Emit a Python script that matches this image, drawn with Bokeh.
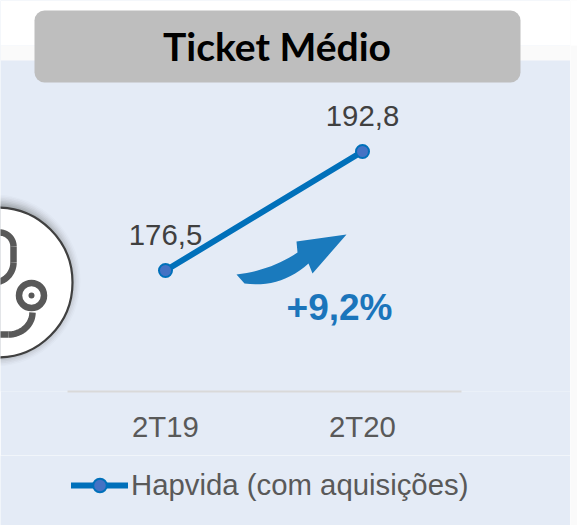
from bokeh.plotting import figure
from bokeh.embed import file_html
from bokeh.layouts import column, row
from bokeh.resources import INLINE
from bokeh.core.properties import value
from bokeh.models import (Range1d, LinearAxis, FixedTicker, BoxAnnotation, Legend, LegendItem,
                          ColumnDataSource)
import numpy as np

categories = ["2T19", "2T20"]
series_name = "Hapvida (com aquisições)"
ticket_medio = [176.5, 192.8]
variation_label = "+9,2%"
chart_title = "Ticket Médio"

PANEL = "#E4EBF6"
W, H, AXIS_Y, TOP_H, STRIP = 570, 525, 391, 455, 7
no_border = dict(min_border_left=0, min_border_right=0, min_border_top=0)

p = figure(width=W, height=TOP_H, frame_width=W, frame_height=AXIS_Y, output_backend="svg", toolbar_location=None,
           x_axis_location=None, y_axis_location=None,
           x_range=Range1d((0 - 165) / 197, (W - 165) / 197),
           y_range=Range1d(176.5 - (AXIS_Y - 270) / 7.3, 176.5 + 270 / 7.3),
           min_border_bottom=TOP_H - AXIS_Y, **no_border,
           outline_line_color=None, background_fill_color=PANEL, border_fill_color=PANEL)
p.grid.visible = False
p.extra_x_ranges["px"] = Range1d(0, W)
p.extra_y_ranges["px"] = Range1d(AXIS_Y, 0)
px = dict(x_range_name="px", y_range_name="px")

def band(l, r, t, b, color, radius=0):
    p.add_layout(BoxAnnotation(left=l, right=r, top=t, bottom=b,
                               left_units="canvas", right_units="canvas",
                               top_units="canvas", bottom_units="canvas", fill_color=color, fill_alpha=1,
                               line_color=None, border_radius=radius, level="underlay"))

band(0, W, 45, 60, "#FAFAFA")
band(0, W, 0, 45, "#FFFFFF")
band(34, 520, 10, 82, "#BEBEBE", 10)

for i, a in zip(range(8), np.linspace(0.02, 0.10, 8)):
    p.circle(x=-6, y=280, radius=86 - i * 1.5, fill_color="#404040", fill_alpha=float(a),
             line_color=None, **px)
p.circle(x=-3, y=282, radius=75, fill_color="#FFFFFF", line_color="#404040", line_width=2.2, **px)
ICON = "#595959"
t = np.linspace(-np.pi / 2, 0, 20)
p.line(x=list(-1 + 14 * np.cos(t)), y=list(246 + 14 * np.sin(t)), line_color=ICON, line_width=6.5, **px)
p.line(x=[13, 13], y=[246, 262], line_color=ICON, line_width=6.5, **px)
t2 = np.linspace(0, np.pi / 2, 20)
p.line(x=list(-7 + 20 * np.cos(t2)), y=list(262 + 20 * np.sin(t2)), line_color=ICON, line_width=6.5, **px)
t3 = np.linspace(0, np.pi / 2, 20)
p.line(x=list(8 + 24 * np.cos(t3)), y=list(312 + 22 * np.sin(t3)), line_color=ICON, line_width=6.5, **px)
p.line(x=[-5, 8], y=[334, 334], line_color=ICON, line_width=6.5, **px)
p.circle(x=31, y=295, radius=12.5, fill_color="#FFFFFF", line_color=ICON, line_width=6.5, **px)
p.circle(x=31, y=295, radius=3, fill_color=ICON, line_color=None, **px)

p.text(x=[276.5], y=[45], text=[chart_title], text_font=value("Lato"), text_font_style="bold",
       text_font_size="39px", text_color="#000000", text_align="center", text_baseline="middle", **px)

def bez(a, b, c, n=14):
    s = np.linspace(0, 1, n)[:, None]
    a, b, c = map(np.array, (a, b, c))
    return (1 - s) ** 2 * a + 2 * s * (1 - s) * b + s ** 2 * c
upper = bez((236, 274), (270, 270), (297, 252))
lower = bez((308, 263), (280, 288), (244, 283))
shape = np.vstack([upper, [(296, 241), (346, 234), (312, 273)], lower])
p.patch(x=list(shape[:, 0]), y=list(shape[:, 1]), fill_color="#1A7ABD", line_color=None, **px)
p.text(x=[339], y=[307], text=[variation_label], text_font=value("Liberation Sans"), text_font_style="bold",
       text_font_size="37px", text_color="#1B75BB", text_align="center", text_baseline="middle", **px)

idx = list(range(len(categories)))
src = ColumnDataSource(dict(x=idx, y=ticket_medio,
                            label=[f"{v:.1f}".replace(".", ",") for v in ticket_medio]))
line_style = dict(line_color="#0070BA", line_width=6, line_cap="round")
mark_style = dict(size=13, fill_color="#4472C4", line_color="#0070BA", line_width=2)
p.line("x", "y", source=src, **line_style)
p.scatter("x", "y", source=src, **mark_style)
p.text("x", "y", text="label", source=src, y_offset=-35.5, text_font=value("Liberation Sans"),
       text_font_size="29.33px", text_color="#404040", text_align="center", text_baseline="middle")

axis = LinearAxis(ticker=FixedTicker(ticks=idx),
                  major_label_overrides={i: c for i, c in zip(idx, categories)},
                  bounds=(-0.5, 1.5), axis_line_color="#D9D9D9", axis_line_width=2,
                  major_tick_line_color=None, minor_tick_line_color=None,
                  major_label_text_font="Liberation Sans", major_label_text_font_size="29.33px",
                  major_label_text_color="#595959", major_label_standoff=12)
p.add_layout(axis, "below")

# legend strip under the chart: its series lie outside the view, only the key shows
q = figure(width=W, height=H - TOP_H, frame_width=W, frame_height=H - TOP_H, output_backend="svg",
           toolbar_location=None, x_axis_location=None, y_axis_location=None,
           x_range=Range1d(10, 11), y_range=Range1d(0, 1), min_border_bottom=0, **no_border,
           outline_line_color=None, background_fill_color=PANEL, border_fill_color=PANEL)
q.grid.visible = False
key_line = q.line("x", "y", source=src, **line_style)
key_mark = q.scatter("x", "y", source=src, **mark_style)
legend = Legend(items=[LegendItem(label=series_name, renderers=[key_line, key_mark])],
                location=(71, 23), orientation="horizontal", glyph_width=57, glyph_height=34,
                label_text_font="Liberation Sans", label_text_font_size="29.33px", label_text_color="#595959",
                background_fill_alpha=0, border_line_color=None, margin=0, padding=0, label_standoff=3)
q.add_layout(legend)

# pale strip at the right edge of the picture
s = figure(width=STRIP, height=H, frame_width=STRIP, frame_height=H, output_backend="svg",
           toolbar_location=None, x_axis_location=None, y_axis_location=None,
           x_range=Range1d(0, STRIP), y_range=Range1d(H, 0), min_border_bottom=0, **no_border,
           outline_line_color=None, background_fill_color="#FAFAFA", border_fill_color="#FAFAFA")
s.grid.visible = False
s.quad(left=0, right=STRIP, top=0, bottom=45, fill_color="#FFFFFF", line_color=None)

page = row(column(p, q, spacing=0), s, spacing=0)
open("out.html", "w").write(file_html(page, INLINE))
